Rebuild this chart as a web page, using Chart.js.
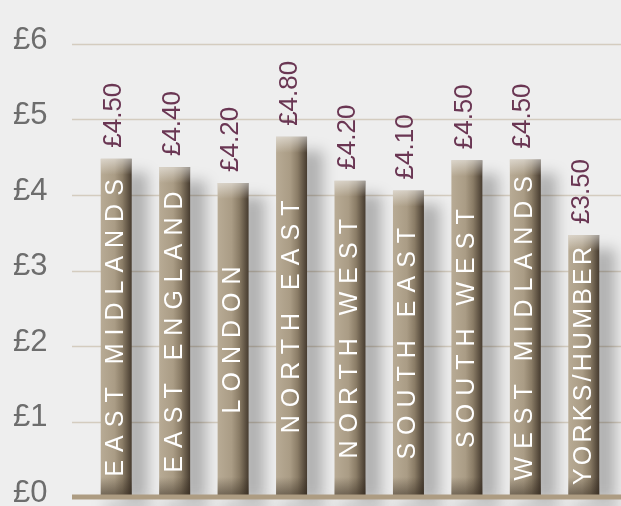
<!DOCTYPE html>
<html>
<head>
<meta charset="utf-8">
<script src="https://cdn.jsdelivr.net/npm/chart.js@4.4.1/dist/chart.umd.min.js"></script>
<style>
    html, body { margin: 0; padding: 0; background: #eeeeee; }
    canvas { display: block; }
</style>
</head>
<body>
<canvas id="priceChart" width="621" height="506"></canvas>
<script>
// data
const regions = ["EAST MIDLANDS", "EAST ENGLAND", "LONDON", "NORTH EAST", "NORTH WEST",
                 "SOUTH EAST", "SOUTH WEST", "WEST MIDLANDS", "YORKS/HUMBER"];
const prices = [4.48, 4.37, 4.16, 4.77, 4.19, 4.06, 4.46, 4.47, 3.47];
const yTicks = [0, 1, 2, 3, 4, 5, 6];

const BAR_PCT = 0.53;
const FONT = '"Liberation Sans", Arial, sans-serif';

function priceLabel(v) {
    return "£" + v.toFixed(1) + "0";
}

// cylinder-like colour across each bar
function barGradient(context) {
    const chart = context.chart;
    const xScale = chart.scales.x;
    if (!chart.chartArea || !xScale) return "#a99b84";
    const cx = xScale.getPixelForValue(context.dataIndex);
    const half = xScale.width / regions.length * BAR_PCT / 2;
    const g = chart.ctx.createLinearGradient(cx - half, 0, cx + half, 0);
    g.addColorStop(0, "#b8ab95");
    g.addColorStop(0.45, "#aa9c85");
    g.addColorStop(0.7, "#8a7c66");
    g.addColorStop(1, "#463b2f");
    return g;
}

const backdrop = {
    id: "backdrop",
    beforeDraw(chart) {
        const ctx = chart.ctx;
        ctx.save();
        ctx.fillStyle = "#eeeeee";
        ctx.fillRect(0, 0, chart.width, chart.height);
        ctx.restore();
    }
};

const gridAndShadows = {
    id: "gridAndShadows",
    beforeDatasetsDraw(chart) {
        const ctx = chart.ctx;
        const y = chart.scales.y;
        ctx.save();
        ctx.strokeStyle = "#d4ccbf";
        ctx.lineWidth = 1.5;
        yTicks.forEach(v => {
            if (v === 0) return;
            const py = Math.round(y.getPixelForValue(v)) + 0.5;
            ctx.beginPath();
            ctx.moveTo(72, py);
            ctx.lineTo(chart.width, py);
            ctx.stroke();
        });
        ctx.restore();

        // soft shadows to the right of every bar
        const meta = chart.getDatasetMeta(0);
        ctx.save();
        ctx.filter = "blur(7px)";
        ctx.fillStyle = "rgba(0,0,0,0.26)";
        meta.data.forEach(bar => {
            const right = bar.x + bar.width / 2;
            ctx.fillRect(right - 8, bar.y + 14, 24, bar.base - bar.y - 12);
        });
        ctx.fillStyle = "rgba(0,0,0,0.16)";
        meta.data.forEach(bar => {
            const left = bar.x - bar.width / 2;
            ctx.fillRect(left + 4, bar.base + 4, bar.width + 16, 14);
        });
        ctx.restore();
    }
};

const barDressing = {
    id: "barDressing",
    afterDatasetsDraw(chart) {
        const ctx = chart.ctx;
        const meta = chart.getDatasetMeta(0);

        meta.data.forEach((bar, i) => {
            const left = bar.x - bar.width / 2;
            const w = bar.width;
            // light cap at the top
            ctx.save();
            let g = ctx.createLinearGradient(0, bar.y, 0, bar.y + 16);
            g.addColorStop(0, "rgba(255,255,255,0.5)");
            g.addColorStop(1, "rgba(255,255,255,0)");
            ctx.fillStyle = g;
            ctx.fillRect(left, bar.y, w, 16);
            // darker foot
            g = ctx.createLinearGradient(0, bar.base - 20, 0, bar.base);
            g.addColorStop(0, "rgba(45,35,25,0)");
            g.addColorStop(1, "rgba(45,35,25,0.55)");
            ctx.fillStyle = g;
            ctx.fillRect(left, bar.base - 20, w, 20);
            ctx.restore();

            // region name inside the bar
            const text = regions[i];
            ctx.save();
            ctx.font = "25px " + FONT;
            ctx.letterSpacing = "0px";
            const baseW = ctx.measureText(text).width;
            const avail = bar.base - bar.y - 24;
            const sp = Math.max(0, Math.min(8, (avail - baseW) / (text.length - 1)));
            const total = baseW + sp * (text.length - 1);
            ctx.letterSpacing = sp + "px";
            ctx.fillStyle = "#ffffff";
            ctx.textAlign = "left";
            ctx.textBaseline = "alphabetic";
            ctx.translate(bar.x + 7, (bar.y + bar.base) / 2);
            ctx.rotate(-Math.PI / 2);
            ctx.fillText(text, -total / 2, 0);
            ctx.restore();

            // price above the bar
            ctx.save();
            ctx.font = "26px " + FONT;
            ctx.fillStyle = "#6a3653";
            ctx.textAlign = "left";
            ctx.textBaseline = "alphabetic";
            ctx.translate(bar.x + 5, bar.y - 11);
            ctx.rotate(-Math.PI / 2);
            ctx.fillText(priceLabel(prices[i]), 0, 0);
            ctx.restore();
        });

        // base line
        const y0 = chart.scales.y.getPixelForValue(0);
        ctx.save();
        ctx.strokeStyle = "#ad9c82";
        ctx.lineWidth = 5;
        ctx.beginPath();
        ctx.moveTo(72, y0);
        ctx.lineTo(chart.width, y0);
        ctx.stroke();
        ctx.restore();
    }
};

const ctx = document.getElementById("priceChart").getContext("2d");

new Chart(ctx, {
    type: "bar",
    data: {
        labels: regions,
        datasets: [{
            data: prices,
            backgroundColor: barGradient,
            borderWidth: 0,
            barPercentage: BAR_PCT,
            categoryPercentage: 1
        }]
    },
    options: {
        responsive: false,
        animation: false,
        layout: {
            padding: { top: 44, bottom: 9, right: 8, left: 13 }
        },
        scales: {
            x: {
                display: false
            },
            y: {
                min: 0,
                max: 6,
                afterBuildTicks: axis => {
                    axis.ticks = yTicks.map(v => ({ value: v }));
                },
                afterFit: axis => {
                    axis.width = 74;
                    axis.paddingTop = 0;
                    axis.paddingBottom = 0;
                },
                border: { display: false },
                grid: { display: false, drawTicks: false },
                ticks: {
                    padding: 0,
                    crossAlign: "far",
                    labelOffset: -4,
                    color: "#6d6d6d",
                    font: { family: FONT, size: 31 },
                    callback: v => "£" + v
                }
            }
        },
        plugins: {
            legend: { display: false },
            tooltip: { enabled: false }
        }
    },
    plugins: [backdrop, gridAndShadows, barDressing]
});
</script>
</body>
</html>
